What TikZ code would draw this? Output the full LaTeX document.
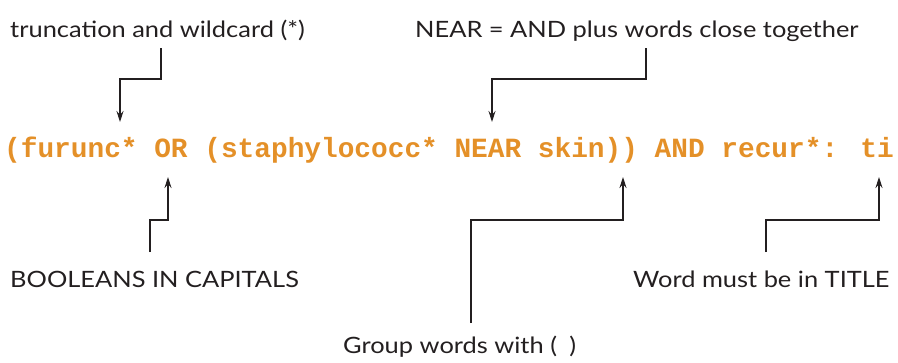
\documentclass[tikz,border=0pt]{standalone}
\usepackage{fontspec}
\setmainfont{Lato}[FakeStretch=1.13]
\newfontfamily\codefont{Liberation Mono}
\usetikzlibrary{arrows.meta}
\definecolor{codeorange}{RGB}{228,144,40}
\definecolor{labelgray}{RGB}{35,31,32}
\tikzset{
  lbl/.style={anchor=base west, inner sep=0pt, font=\fontsize{22.5}{26}\selectfont, text=labelgray},
  code/.style={anchor=base west, inner sep=0pt, font=\codefont\bfseries\fontsize{27.8}{30}\selectfont, text=codeorange},
  callout/.style={draw=labelgray, line width=1.1pt, -{Stealth[length=11pt,width=7pt]}}
}
\begin{document}
\begin{tikzpicture}[x=1pt,y=-1pt]
\useasboundingbox (0,0) rectangle (898,362);

% the search string
\node[code] (query) at (4,157) {(furunc* OR (staphylococc* NEAR skin)) AND recur*: ti};

% labels
\node[lbl] (trunc) at (10,37) {truncation and wildcard (*)};
\node[lbl] (near)  at (415,37) {NEAR = AND plus words close together};
\node[lbl] (bool)  at (10,287) {BOOLEANS IN CAPITALS};
\node[lbl] (title) at (633,287) {Word must be in TITLE};
\node[lbl] (group) at (343,353) {Group words with (\hspace{0.25em} )};

% connector ends
\coordinate (truncS) at (161,48);
\coordinate (truncT) at (120,122);
\coordinate (nearS)  at (646,48);
\coordinate (nearT)  at (492,122);
\coordinate (boolS)  at (150,252);
\coordinate (boolT)  at (168,177);
\coordinate (groupS) at (471,323);
\coordinate (groupT) at (623,177);
\coordinate (titleS) at (766,252);
\coordinate (titleT) at (879,177);

% callouts
\draw[callout] (truncS) -- (161,79) -| (truncT);
\draw[callout] (nearS)  -- (646,79) -| (nearT);
\draw[callout] (boolS)  -- (150,220) -| (boolT);
\draw[callout] (groupS) -- (471,220) -| (groupT);
\draw[callout] (titleS) -- (766,220) -| (titleT);
\end{tikzpicture}
\end{document}
